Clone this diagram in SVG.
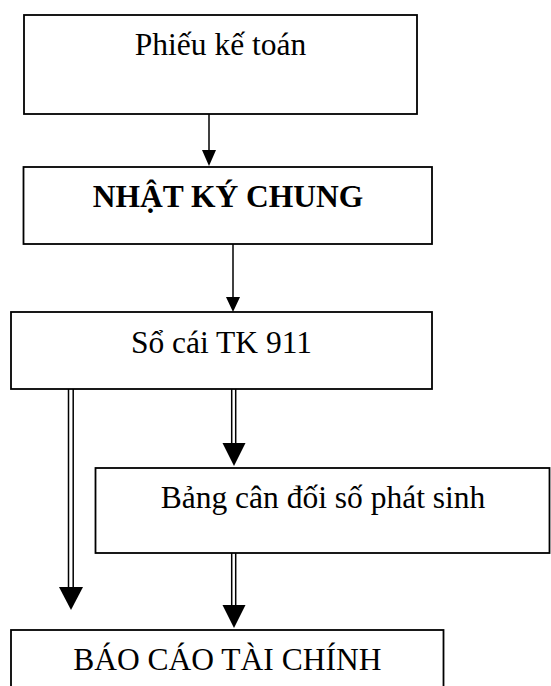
<svg xmlns="http://www.w3.org/2000/svg" width="551" height="686" viewBox="0 0 551 686">
  <style>
    .box { fill: #ffffff; stroke: #000000; stroke-width: 1.8; }
    .label { font-family: "Liberation Serif", "Times New Roman", serif; font-size: 31.5px; fill: #000000; text-anchor: middle; }
    .bold { font-weight: bold; }
    .shaft { stroke: #000000; stroke-width: 1.5; fill: none; }
    .head { fill: #000000; stroke: none; }
  </style>
  <rect width="551" height="686" fill="#ffffff"/>

  <g id="node-phieu-ke-toan">
    <rect class="box" x="24" y="15" width="393" height="99"/>
    <text class="label" x="220.5" y="55">Phiếu kế toán</text>
  </g>

  <g id="node-nhat-ky-chung">
    <rect class="box" x="23.5" y="167" width="408.5" height="77"/>
    <text class="label bold" x="228" y="207">NHẬT KÝ CHUNG</text>
  </g>

  <g id="node-so-cai">
    <rect class="box" x="11" y="312" width="421" height="77"/>
    <text class="label" x="221.5" y="353">Sổ cái TK 911</text>
  </g>

  <g id="node-bang-can-doi">
    <rect class="box" x="95.5" y="468" width="454" height="85"/>
    <text class="label" x="323" y="508">Bảng cân đối số phát sinh</text>
  </g>

  <g id="node-bao-cao">
    <rect class="box" x="11" y="630" width="432.5" height="70"/>
    <text class="label" x="227.3" y="670">BÁO CÁO TÀI CHÍNH</text>
  </g>

  <g id="connectors">
    <!-- single arrows -->
    <path class="shaft" d="M209,114 V151"/>
    <polygon class="head" points="202,150 216,150 209,166"/>
    <path class="shaft" d="M233,244 V298"/>
    <polygon class="head" points="226,297 240,297 233,312"/>

    <!-- double arrows -->
    <path class="shaft" d="M68.5,389 V588 M73.2,389 V588"/>
    <polygon class="head" points="59,587 83,587 71,610"/>
    <path class="shaft" d="M231.7,389 V444 M235.7,389 V444"/>
    <polygon class="head" points="222.5,443 245.5,443 234,466"/>
    <path class="shaft" d="M231.7,553 V606 M235.7,553 V606"/>
    <polygon class="head" points="222.5,605 245.5,605 234,628"/>
  </g>
</svg>
